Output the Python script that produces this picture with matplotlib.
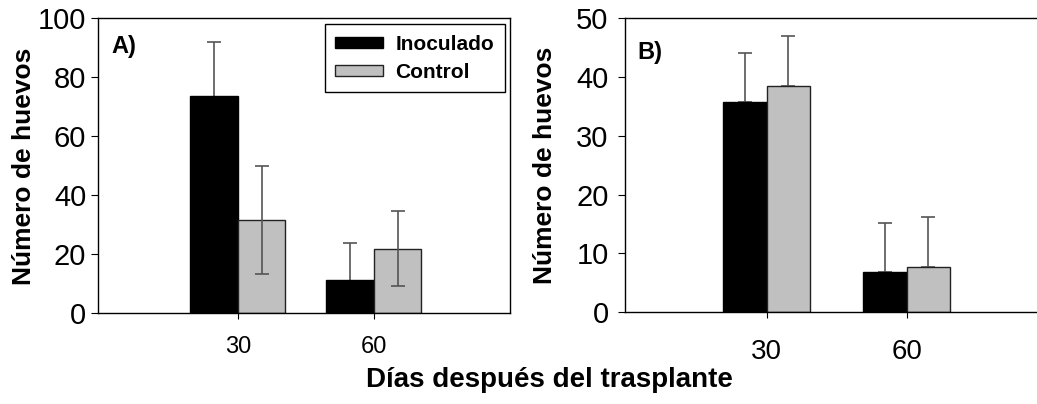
import numpy as np
from matplotlib import pyplot as plt

plt.rcParams['font.family'] = ['Liberation Sans', 'DejaVu Sans']

days = ["30", "60"]

# panel A
inoc_a = [73.8, 11.2]
inoc_a_err = [18.1, 12.6]
ctrl_a = [31.5, 21.9]
ctrl_a_err = [18.3, 12.8]

# panel B
inoc_b = [35.7, 6.8]
inoc_b_err = [8.4, 8.4]
ctrl_b = [38.5, 7.7]
ctrl_b_err = [8.5, 8.5]

black = "#000000"
grey = "#c0c0c0"
errc = "#555555"

fig = plt.figure(figsize=(10.37, 4.04), dpi=100)

ax1 = fig.add_axes([0.0945, 0.2245, 0.397, 0.730])
ax2 = fig.add_axes([0.603, 0.227, 0.397, 0.7277])

x = np.arange(len(days))

# A
w = 0.35
ax1.bar(x - w, inoc_a, w, align="edge", color=black, edgecolor=black,
        linewidth=1, label="Inoculado", zorder=2)
ax1.bar(x, ctrl_a, w, align="edge", color=grey, edgecolor="#222222",
        linewidth=1, label="Control", zorder=2)
ax1.errorbar(x - w / 2, inoc_a, yerr=inoc_a_err, fmt="none", ecolor=errc,
             elinewidth=1.2, capsize=5, capthick=1.2, zorder=1)
ax1.errorbar(x + w / 2, ctrl_a, yerr=ctrl_a_err, fmt="none", ecolor=errc,
             elinewidth=1.2, capsize=5, capthick=1.2, zorder=3)
ax1.set_xlim(-1.03, 2.0)
ax1.set_ylim(0, 100)
ax1.set_yticks([0, 20, 40, 60, 80, 100])
ax1.text(0.033, 0.905, "A)", transform=ax1.transAxes, fontsize=17,
         fontweight="bold", va="center")
leg = ax1.legend(loc="upper right", bbox_to_anchor=(0.988, 0.98),
                 borderaxespad=0,
                 prop={"weight": "bold", "size": 15},
                 handlelength=2.3, handleheight=0.45, fancybox=False,
                 framealpha=1, edgecolor="black", borderpad=0.5,
                 labelspacing=0.45, handletextpad=0.6)
leg.get_frame().set_linewidth(1.0)

# B
w2 = 0.31
ax2.bar(x - w2, inoc_b, w2, align="edge", color=black, edgecolor=black,
        linewidth=1, zorder=2)
ax2.bar(x, ctrl_b, w2, align="edge", color=grey, edgecolor="#222222",
        linewidth=1, zorder=2)
ax2.errorbar(x - w2 / 2, inoc_b, yerr=[[0, 0], inoc_b_err], fmt="none",
             ecolor=errc, elinewidth=1.2, capsize=5, capthick=1.2, zorder=1)
ax2.errorbar(x + w2 / 2, ctrl_b, yerr=[[0, 0], ctrl_b_err], fmt="none",
             ecolor=errc, elinewidth=1.2, capsize=5, capthick=1.2, zorder=1)
ax2.set_xlim(-1.01, 1.93)
ax2.set_ylim(0, 50)
ax2.set_yticks([0, 10, 20, 30, 40, 50])
ax2.spines["right"].set_visible(False)
ax2.text(0.03, 0.885, "B)", transform=ax2.transAxes, fontsize=17,
         fontweight="bold", va="center")

for ax in (ax1, ax2):
    ax.set_xticks(x)
    ax.set_xticklabels(days)
    ax.tick_params(axis="x", direction="out", length=4)
    ax.tick_params(axis="y", direction="out", length=5, labelsize=21)
    ax.set_ylabel("Número de huevos", fontsize=19, fontweight="bold")
    for s in ax.spines.values():
        s.set_linewidth(1.0)

ax1.tick_params(axis="x", labelsize=17, pad=12.5)
ax2.tick_params(axis="x", labelsize=20, pad=15.5)
ax2.tick_params(axis="y", pad=7)
ax1.yaxis.set_label_coords(-0.150, 0.5)
ax2.yaxis.set_label_coords(-0.167, 0.5)

fig.text(0.53, 0.06, "Días después del trasplante", fontsize=20,
         fontweight="bold", ha="center", va="center")

fig.savefig("out.png", dpi=100)
